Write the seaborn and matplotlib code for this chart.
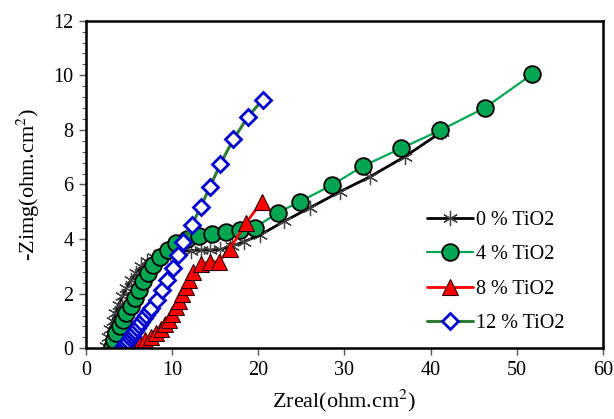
import matplotlib
matplotlib.use("Agg")
import matplotlib.pyplot as plt
import seaborn as sns
import pandas as pd

sns.set_theme(style="ticks")
plt.rcParams['font.family'] = ['Liberation Serif', 'DejaVu Serif']
plt.rcParams['mathtext.fontset'] = 'stix'
plt.rcParams['text.color'] = 'black'
plt.rcParams['axes.labelcolor'] = 'black'
plt.rcParams['xtick.labelcolor'] = 'black'
plt.rcParams['ytick.labelcolor'] = 'black'

# ---- data ----
x_0 = [2.3, 2.5, 2.8, 3.1, 3.4, 3.8, 4.2, 4.7, 5.2, 5.8, 6.4, 7.1, 7.9, 8.8, 9.8,
       11.0, 12.2, 13.3, 14.4, 15.6, 17.0, 18.3, 20.2, 23.0, 26.0, 29.5, 33.0, 37.0, 41.3]
y_0 = [0.1, 0.4, 0.7, 1.0, 1.3, 1.6, 1.9, 2.2, 2.5, 2.75, 3.0, 3.2, 3.35, 3.45, 3.5,
       3.55, 3.58, 3.6, 3.6, 3.62, 3.75, 3.9, 4.15, 4.65, 5.15, 5.74, 6.29, 7.02, 7.93]

x_4 = [3.0, 3.2, 3.5, 3.9, 4.3, 4.7, 5.2, 5.7, 6.1, 6.6, 7.2, 7.8, 8.6, 9.5, 10.5,
       11.7, 13.1, 14.6, 16.2, 17.9, 19.6, 22.3, 24.8, 28.5, 32.2, 36.6, 41.1, 46.3, 51.8]
y_4 = [0.05, 0.3, 0.55, 0.8, 1.05, 1.3, 1.55, 1.85, 2.15, 2.45, 2.75, 3.05, 3.35, 3.6, 3.85,
       4.0, 4.1, 4.2, 4.27, 4.33, 4.42, 4.97, 5.37, 5.97, 6.68, 7.33, 7.98, 8.81, 10.04]

x_8 = [5.3, 5.8, 6.3, 6.9, 7.5, 8.1, 8.7, 9.2, 9.6, 10.0, 10.4, 10.8, 11.2, 11.6,
       12.0, 12.4, 13.4, 14.4, 15.4, 16.7, 18.6, 20.4]
y_8 = [0.0, 0.1, 0.2, 0.3, 0.42, 0.55, 0.7, 0.88, 1.05, 1.25, 1.5, 1.75, 2.0, 2.25,
       2.5, 2.8, 3.1, 3.17, 3.17, 3.64, 4.6, 5.37]

x_12 = [4.3, 4.5, 4.7, 4.9, 5.1, 5.3, 5.5, 5.7, 5.9, 6.2, 6.4, 6.7, 7.0, 7.3, 7.6, 8.2, 8.8, 9.4,
        10.1, 10.7, 11.3, 12.3, 13.3, 14.4, 15.6, 17.1, 18.8, 20.5]
y_12 = [0.05, 0.12, 0.2, 0.28, 0.37, 0.46, 0.55, 0.64, 0.73, 0.85, 0.97, 1.1, 1.22, 1.35, 1.47,
        1.77, 2.14, 2.5, 2.93, 3.4, 3.9, 4.52, 5.17, 5.92, 6.75, 7.65, 8.48, 9.1]

labels = ["0 % TiO2", "4 % TiO2", "8 % TiO2", "12 % TiO2"]
x_ticks = [0, 10, 20, 30, 40, 50, 60]
y_ticks = [0, 2, 4, 6, 8, 10, 12]

series = [
    (x_0, y_0, dict(color="black", lw=2, marker=(6, 2, 0), markersize=11,
                    markeredgecolor="#444444", markeredgewidth=0.9, markerfacecolor="none")),
    (x_4, y_4, dict(color="#00A651", lw=1.6, marker="o", markersize=12,
                    markerfacecolor="#00A651", markeredgecolor="black", markeredgewidth=1.3)),
    (x_8, y_8, dict(color="#FF0000", lw=2, marker="^", markersize=11,
                    markerfacecolor="#FF0000", markeredgecolor="#330000", markeredgewidth=0.8)),
    (x_12, y_12, dict(color="#2E7D32", lw=2.2, marker="D", markersize=8.5,
                      markerfacecolor="white", markeredgecolor="#0000CC", markeredgewidth=2)),
]

fig = plt.figure(figsize=(6.14, 4.19), dpi=100)
ax = fig.add_axes([0.140, 0.1687, 0.842, 0.782])

for (xs, ys, kw), lab in zip(series, labels):
    df = pd.DataFrame({"x": xs, "y": ys})
    sns.lineplot(data=df, x="x", y="y", sort=False, estimator=None, ax=ax,
                 label=lab, **kw)

ax.set_xlim(0, 60)
ax.set_ylim(0, 12)
ax.set_xticks(x_ticks)
ax.set_yticks(y_ticks)
ax.set_yticks([i * 0.4 for i in range(31)], minor=True)
ax.tick_params(axis="both", which="major", direction="out", length=5, width=1,
               labelsize=14.5, color="#555555", pad=4)
ax.tick_params(axis="y", which="minor", direction="out", length=3, width=0.8, color="#555555")
for s in ax.spines.values():
    s.set_visible(True)
    s.set_linewidth(1.8)
    s.set_color("black")

ax.set_xlabel("Zreal(ohm.cm$^2$)", fontsize=16, labelpad=6)
ax.set_ylabel("-Zimg(ohm.cm$^2$)", fontsize=16, labelpad=8)

leg = ax.legend(loc="center left", bbox_to_anchor=(0.66, 0.233), frameon=False,
                fontsize=14.5, handlelength=2.3, handletextpad=0.1, labelspacing=0.75,
                borderaxespad=0, borderpad=0)

fig.savefig("out.png", dpi=100)
